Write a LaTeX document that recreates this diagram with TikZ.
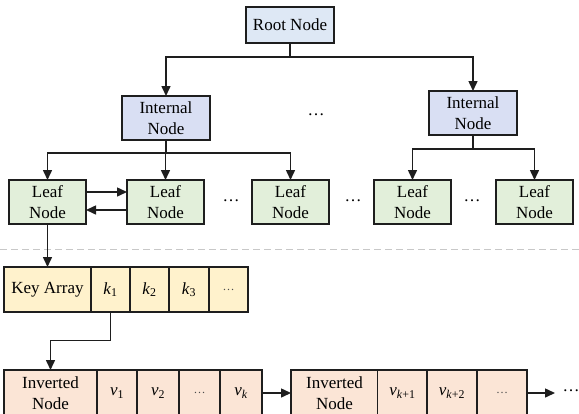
\documentclass[tikz,border=0pt]{standalone}
\usepackage{fontspec}
\setmainfont{Liberation Serif}
\usepackage{tikz}
\usetikzlibrary{arrows.meta}
\usepackage{xcolor}
\definecolor{rootfill}{HTML}{DEE8F5}
\definecolor{innerfill}{HTML}{D9DFF3}
\definecolor{leaffill}{HTML}{E2EFDA}
\definecolor{keyfill}{HTML}{FFF2CC}
\definecolor{invfill}{HTML}{FBE5D6}
\definecolor{boxline}{HTML}{1E1E1E}
\definecolor{sepline}{HTML}{C8C8C8}
\newcommand{\itsub}[2]{\textit{#1}\textsubscript{#2}}

\begin{document}
\begin{tikzpicture}[x=1pt,y=-1pt,>={Triangle[length=10pt,width=9pt]},
    every node/.style={font=\fontsize{17}{20.5}\selectfont},
    box/.style={draw=boxline,line width=1.5pt,inner sep=0pt,outer sep=0pt,
      align=center,minimum height=44pt},
    rootbox/.style={box,fill=rootfill,minimum width=88pt,minimum height=36pt},
    innerbox/.style={box,fill=innerfill,minimum width=88pt},
    leafbox/.style={box,fill=leaffill,minimum width=77pt},
    keycell/.style={box,fill=keyfill,minimum height=45pt},
    invcell/.style={box,fill=invfill,minimum height=46pt},
    link/.style={line width=1.5pt,draw=boxline},
    gap/.style={inner sep=0pt},
    celldots/.style={font=\fontsize{12}{14}\selectfont,text=black!70}]
  \useasboundingbox (0,0) rectangle (579,413);

  % tree part
  \node[rootbox] (root) at (290,25) {Root Node};
  \node[innerbox] (in1) at (166,118) {Internal\\Node};
  \node[innerbox] (in2) at (473,113) {Internal\\Node};
  \node[gap] (indots) at (316,115) {\ldots};
  \foreach \i/\x in {1/47.5,2/165.5,3/290.5,4/412.5,5/534.5}
    \node[leafbox] (leaf\i) at (\x,202) {Leaf\\Node};
  \foreach \i/\x in {1/231,2/353,3/472}
    \node[gap] (ldots\i) at (\x,201) {\ldots};

  \draw[link,->] (root.south) -- ++(0,14) -| (in1.north);
  \draw[link,->] (root.south) -- ++(0,14) -| (in2.north);
  \foreach \i in {1,2,3}
    \draw[link,->] (in1.south) -- ++(0,13) -| (leaf\i.north);
  \foreach \i in {4,5}
    \draw[link,->] (in2.south) -- ++(0,14) -| (leaf\i.north);
  \draw[link,->] ([yshift=10pt]leaf1.east) -- ([yshift=10pt]leaf2.west);
  \draw[link,->] ([yshift=-8pt]leaf2.west) -- ([yshift=-8pt]leaf1.east);

  % separator
  \coordinate (sepL) at (0,249);
  \coordinate (sepR) at (579,249);
  \draw[sepline,line width=1pt,dash pattern=on 7pt off 4pt] (sepL) -- (sepR);

  % key array
  \foreach \n/\x/\w/\t in {ka/47.5/87/Key Array,k1/110.5/39/\itsub{k}{1},
      k2/149.5/39/\itsub{k}{2},k3/189/40/\itsub{k}{3}}
    \node[keycell,minimum width=\w pt] (\n) at (\x,289.5) {\t};
  \node[keycell,minimum width=39pt,celldots] (kd) at (228.5,289.5) {\ldots};
  \draw[link,->] (leaf1.south) -- (ka.north);

  % inverted lists
  \node[invcell,minimum width=93pt] (inv1) at (50.5,393) {Inverted\\Node};
  \foreach \n/\x/\w/\t in {v1/117/40/\itsub{v}{1},v2/158/42/\itsub{v}{2},
      vk/241/42/\itsub{v}{\textit{k}}}
    \node[invcell,minimum width=\w pt] (\n) at (\x,393) {\t};
  \node[invcell,minimum width=41pt,celldots] (vd) at (199.5,393) {\ldots};
  \node[invcell,minimum width=87pt] (inv2) at (334.5,393) {Inverted\\Node};
  \foreach \n/\x/\t in {w1/402.5/\itsub{v}{\textit{k}+1},w2/452/\itsub{v}{\textit{k}+2}}
    \node[invcell,minimum width=50pt] (\n) at (\x,393) {\t};
  \node[invcell,minimum width=50pt,celldots] (wd) at (502,393) {\ldots};
  \coordinate (tail) at (555,393);
  \node[gap] (more) at (571,391) {\ldots};

  \draw[link,->] (k1.south) -- ++(0,28.5) -| (inv1.north);
  \draw[link,->] (vk.east) -- (inv2.west);
  \draw[link,->] (wd.east) -- (tail);
\end{tikzpicture}
\end{document}
